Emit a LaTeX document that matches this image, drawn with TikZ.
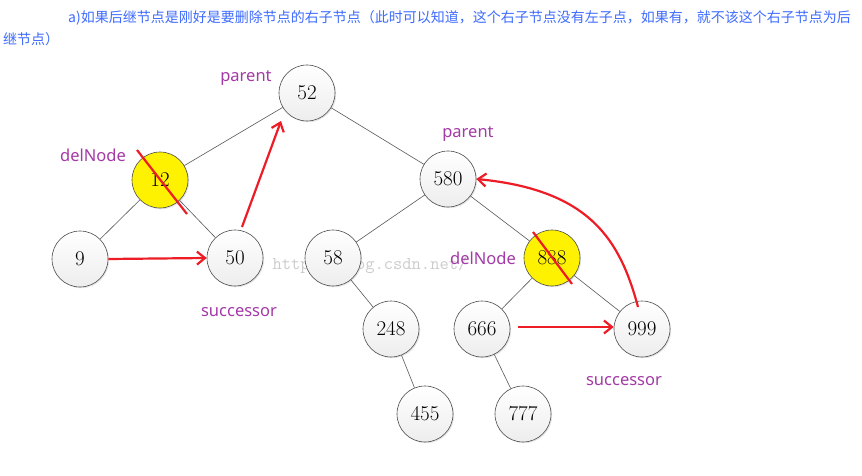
\documentclass[tikz,border=0pt]{standalone}
\usepackage{fontspec}
\newfontfamily\cjk{Noto Sans CJK SC}
\newfontfamily\lab{Noto Sans}
\usetikzlibrary{arrows.meta,shadows}
\definecolor{lblue}{HTML}{3D6BFF}
\definecolor{lpurple}{HTML}{A33AA6}
\definecolor{ared}{HTML}{EE1C25}
\definecolor{hyellow}{HTML}{FFF200}
\begin{document}
\begin{tikzpicture}[x=1pt,y=-1pt,
  tn/.style={circle,minimum size=56pt,inner sep=0pt,draw=black!70,line width=0.6pt,
    top color=white,bottom color=black!7,
    drop shadow={opacity=0.2,shadow xshift=1.2pt,shadow yshift=-1.2pt},
    font=\fontsize{21}{24}\selectfont},
  del/.style={tn,top color=hyellow,bottom color=hyellow},
  edge/.style={draw=black!65,line width=0.6pt},
  lbl/.style={text=lpurple,font=\lab\fontsize{16.5}{19}\selectfont,inner sep=0pt},
  redarrow/.style={draw=ared,line width=2.2pt,-{Straight Barb[length=8pt,width=13pt]}},
  redline/.style={draw=ared,line width=2.2pt},
  head/.style={text=lblue,font=\cjk\fontsize{14}{17}\selectfont,inner sep=0pt,anchor=west}]
\useasboundingbox (0,0) rectangle (862,476);
\fill[white] (0,0) rectangle (862,476);
\node[head] (h1) at (68,18) {a)如果后继节点是刚好是要删除节点的右子节点（此时可以知道，这个右子节点没有左子点，如果有，就不该这个右子节点为后};
\node[head] (h2) at (3,39) {继节点）};
\node[text=black!20,font=\ttfamily\fontsize{18}{20}\selectfont,inner sep=0pt] (wm) at (370,265) {http://blog.csdn.net/};
% nodes
\node[tn] (n52) at (307,93) {52};
\node[del] (n12) at (160,180) {12};
\node[tn] (n580) at (448,179) {580};
\node[tn] (n9) at (80,259) {9};
\node[tn] (n50) at (235,258) {50};
\node[tn] (n58) at (333,258) {58};
\node[del] (n888) at (552,258) {888};
\node[tn] (n248) at (391,329) {248};
\node[tn] (n666) at (482,329) {666};
\node[tn] (n999) at (642,329) {999};
\node[tn] (n455) at (425,414) {455};
\node[tn] (n777) at (523,414) {777};
% edges
\path[edge] (n52) -- (n12);
\path[edge] (n52) -- (n580);
\path[edge] (n12) -- (n9);
\path[edge] (n12) -- (n50);
\path[edge] (n580) -- (n58);
\path[edge] (n580) -- (n888);
\path[edge] (n58) -- (n248);
\path[edge] (n248) -- (n455);
\path[edge] (n888) -- (n666);
\path[edge] (n888) -- (n999);
\path[edge] (n666) -- (n777);
% labels
\node[lbl] (p1) at (246,78) {parent};
\node[lbl] (p2) at (468,134) {parent};
\node[lbl] (d1) at (93,155) {delNode};
\node[lbl] (s1) at (239,312) {successor};
\node[lbl] (d2) at (483,258) {delNode};
\node[lbl] (s2) at (624,381) {successor};
% red marks
\path[redline] ([shift={(-23,-30)}]n12.center) -- ([shift={(27,34)}]n12.center);
\path[redline] ([shift={(-19,-26)}]n888.center) -- ([shift={(20,26)}]n888.center);
\path[redarrow] (n9.east) -- (n50.west);
\path[redarrow] (n666.east) ++(8,-2) coordinate (a666) (a666) -- ([yshift=2pt]n999.west);
\path[redarrow] ([shift={(7,-31)}]n50.center) coordinate (a50) (a50) -- ([shift={(-26,28)}]n52.center);
\path[redarrow] ([shift={(-4,-22)}]n999.center) coordinate (a999) (a999) .. controls (620,240) and (590,190) .. (n580.east);
\end{tikzpicture}
\end{document}
